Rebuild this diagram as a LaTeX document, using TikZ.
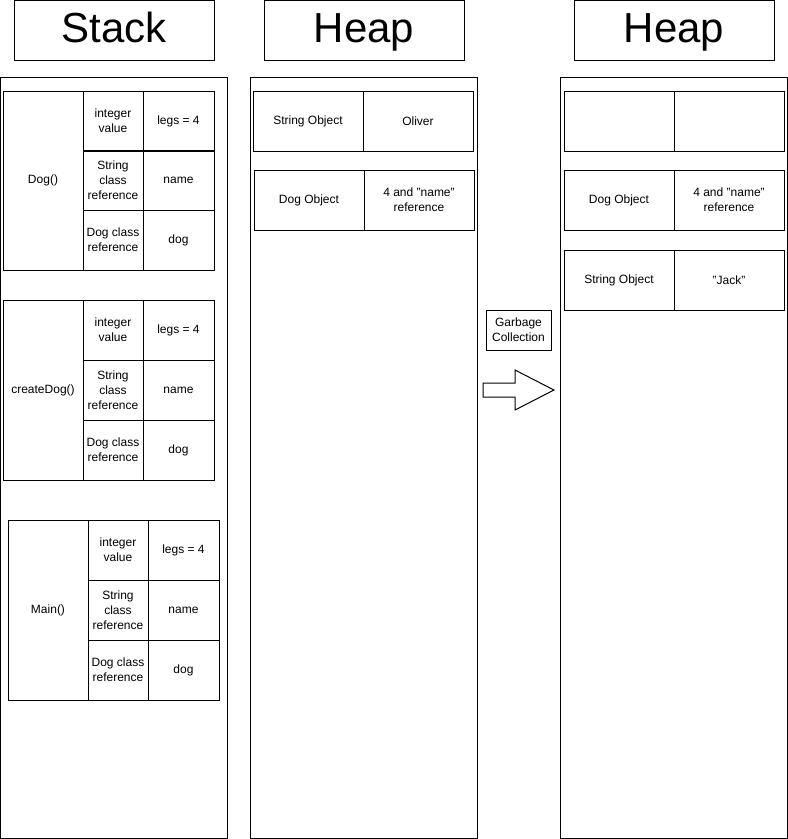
\documentclass[tikz,border=0pt]{standalone}
\usepackage{fontspec}
\setmainfont{Liberation Sans}
\begin{document}
\begin{tikzpicture}[x=1pt,y=-1pt,
  box/.style={draw, line width=1pt, anchor=north west, inner sep=1pt, outer sep=0pt, align=center, font=\fontsize{12}{15}\selectfont},
  title/.style={draw, line width=1pt, anchor=north west, inner sep=0pt, outer sep=0pt, minimum width=200pt, minimum height=60pt, text height=29pt, text depth=5pt, font=\fontsize{42}{50}\selectfont},
  col/.style={draw, line width=1pt, anchor=north west, inner sep=0pt, outer sep=0pt, minimum width=227pt, minimum height=761pt},
  lab/.style={box, minimum width=80pt, minimum height=179pt},
  ca/.style={box, minimum width=60pt, minimum height=60pt},
  cb/.style={box, minimum width=71pt, minimum height=60pt},
  ho/.style={box, minimum width=110pt, minimum height=60pt}]
\useasboundingbox (0,0) rectangle (788,839);
% titles
\node[title] (tstack) at (14,0.5) {Stack};
\node[title] (theap1) at (264,0.5) {Heap};
\node[title] (theap2) at (574,0.5) {Heap};
% columns
\node[col] (cstack) at (0.5,77) {};
\node[col] (cheap1) at (250,77) {};
\node[col] (cheap2) at (560,77) {};
% Dog() frame
\node[lab] (f1) at (3,91) {Dog()};
\node[ca] (f1a) at (83,91) {integer\\value};
\node[cb] (f1b) at (143,91) {legs = 4};
\node[ca] (f1c) at (83,150) {String\\class\\reference};
\node[cb] (f1d) at (143,150) {name};
\node[ca] (f1e) at (83,210) {Dog class\\reference};
\node[cb] (f1f) at (143,210) {dog};
% createDog() frame
\node[lab, minimum height=180pt] (f2) at (3,300) {createDog()};
\node[ca] (f2a) at (83,300) {integer\\value};
\node[cb] (f2b) at (143,300) {legs = 4};
\node[ca] (f2c) at (83,360) {String\\class\\reference};
\node[cb] (f2d) at (143,360) {name};
\node[ca] (f2e) at (83,420) {Dog class\\reference};
\node[cb] (f2f) at (143,420) {dog};
% Main() frame
\node[lab, minimum height=180pt] (f3) at (8,520) {Main()};
\node[ca] (f3a) at (88,520) {integer\\value};
\node[cb] (f3b) at (148,520) {legs = 4};
\node[ca] (f3c) at (88,580) {String\\class\\reference};
\node[cb] (f3d) at (148,580) {name};
\node[ca] (f3e) at (88,640) {Dog class\\reference};
\node[cb] (f3f) at (148,640) {dog};
% Heap 1
\node[ho] (h1a) at (253,91) {String Object};
\node[ho] (h1b) at (363,91) {Oliver};
\node[ho] (h1c) at (254,170) {Dog Object};
\node[ho] (h1d) at (364,170) {4 and "name"\\reference};
% Heap 2
\node[ho] (h2a) at (564,91) {};
\node[ho] (h2b) at (674,91) {};
\node[ho] (h2c) at (564,170) {Dog Object};
\node[ho] (h2d) at (674,170) {4 and "name"\\reference};
\node[ho] (h2e) at (564,250) {String Object};
\node[ho] (h2f) at (674,250) {"Jack"};
% Garbage collection
\node[box, minimum width=65pt, minimum height=40pt] (gc) at (486,310) {Garbage\\Collection};
\draw[line width=1pt, line join=miter] (483,383) -- (515,383) -- (515,370) -- (554,390) -- (515,410) -- (515,397) -- (483,397) -- cycle;
\end{tikzpicture}
\end{document}
